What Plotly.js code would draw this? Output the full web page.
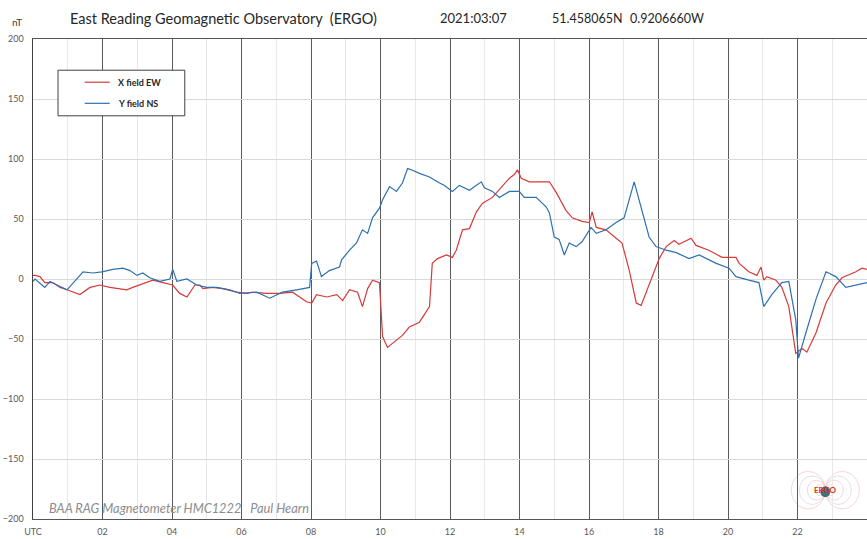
<!DOCTYPE html>
<html>
<head>
<meta charset="utf-8">
<script src="https://cdn.plot.ly/plotly-3.0.1.min.js"></script>
<style>
  html, body { margin: 0; padding: 0; background: #fff; }
  #chart { width: 867px; height: 539px; }
</style>
</head>
<body>
<div id="chart"></div>
<script>
// ERGO magnetometer, 2021-03-07 — time in decimal hours UTC, field deviation in nT
const xFieldHours = [0.00,0.06,0.20,0.34,0.57,0.78,0.98,1.35,1.64,1.93,2.21,2.50,2.70,2.87,3.07,3.28,3.45,3.74,4.02,4.22,4.43,4.66,4.80,4.89,5.17,5.46,5.86,6.15,6.32,6.72,7.10,7.47,7.87,8.02,8.16,8.45,8.74,8.91,9.11,9.34,9.48,9.63,9.77,9.97,10.06,10.20,10.46,10.63,10.83,11.12,11.41,11.49,11.64,11.90,12.07,12.18,12.36,12.56,12.76,12.93,13.22,13.51,13.71,13.85,13.94,14.05,14.28,14.57,14.86,15.06,15.34,15.52,15.80,16.01,16.09,16.21,16.49,16.78,16.95,17.16,17.36,17.50,17.73,18.02,18.22,18.45,18.59,18.94,19.08,19.45,19.83,20.23,20.32,20.60,20.83,20.95,21.03,21.12,21.38,21.55,21.75,21.95,22.13,22.27,22.53,22.82,23.10,23.28,23.68,23.85,24.00];
const xFieldEW = [3,3,2,-3,-3,-7,-9,-13,-7,-5,-7,-8,-9,-7,-5,-3,-1,-3,-5,-12,-15,-5,-5,-8,-7,-8,-11,-12,-11,-12,-12,-11,-19,-20,-13,-15,-13,-18,-9,-11,-23,-8,-1,-3,-48,-57,-51,-47,-40,-36,-23,13,17,20,18,24,41,42,56,63,68,77,84,87,91,84,81,81,81,72,57,51,48,47,56,43,41,34,30,7,-20,-22,-5,17,27,32,29,34,28,24,18,18,13,6,3,10,-1,2,-1,-7,-23,-62,-58,-61,-45,-20,-5,1,6,9,8];

const yFieldHours = [0.00,0.06,0.34,0.49,0.69,0.98,1.44,1.72,1.98,2.30,2.59,2.79,2.99,3.16,3.36,3.65,3.94,4.02,4.14,4.43,4.71,5.00,5.29,5.66,5.95,6.44,6.81,7.18,7.59,7.96,8.02,8.16,8.30,8.53,8.82,8.88,9.11,9.31,9.48,9.63,9.77,9.97,10.06,10.26,10.46,10.63,10.78,10.89,11.12,11.41,11.70,11.84,12.07,12.27,12.56,12.90,12.99,13.22,13.42,13.71,13.99,14.14,14.48,14.77,14.86,15.00,15.14,15.29,15.43,15.63,15.80,16.06,16.21,16.49,16.78,17.01,17.30,17.50,17.73,17.93,18.22,18.51,18.88,19.17,19.66,20.03,20.23,20.60,20.89,21.03,21.26,21.55,21.75,21.95,22.03,22.24,22.53,22.82,23.10,23.39,23.68,24.00];
const yFieldNS = [-2,0,-7,-2,-5,-9,6,5,6,8,9,7,3,5,1,-2,0,8,-2,0,-5,-7,-7,-9,-12,-11,-16,-11,-9,-7,13,15,2,7,10,16,24,30,41,38,51,59,66,77,73,80,92,91,88,85,80,78,73,78,74,81,76,73,68,73,73,68,68,60,55,35,33,20,30,27,31,43,38,41,47,51,81,60,35,27,24,22,17,20,13,9,2,-1,-3,-23,-13,-3,-2,-34,-66,-45,-17,6,2,-7,-5,-3];

const hourTicks = [0,2,4,6,8,10,12,14,16,18,20,22];
const hourLabels = ['UTC','02','04','06','08','10','12','14','16','18','20','22'];
const seriesNames = ['X field EW','Y field NS'];
const seriesColors = ['#d63a3a','#2e70ad'];

const titleParts = [
  {text: 'East Reading Geomagnetic Observatory  (ERGO)', x: 0.042, size: 14.5},
  {text: '2021:03:07', x: 0.4856, size: 13},
  {text: '51.458065N', x: 0.62, size: 12.5},
  {text: '0.9206660W', x: 0.7134, size: 12.5}
];

const font = 'Lato, "Open Sans", "Liberation Sans", sans-serif';

const traces = [
  {x: xFieldHours, y: xFieldEW, name: seriesNames[0], type: 'scatter', mode: 'lines',
   line: {color: seriesColors[0], width: 1.2}},
  {x: yFieldHours, y: yFieldNS, name: seriesNames[1], type: 'scatter', mode: 'lines',
   line: {color: seriesColors[1], width: 1.2}}
];

// plot-area size in px, used to place decorations in paper units
const plotW = 834, plotH = 480;
const px = v => v / plotW, py = v => v / plotH;

// legend box drawn in paper coordinates
const legL = 0.030, legR = 0.182, legT = 0.935, legB = 0.840;
const legRows = [0.910, 0.866];

const shapes = [
  {type: 'rect', xref: 'paper', yref: 'paper', x0: legL, x1: legR, y0: legB, y1: legT,
   line: {color: '#404040', width: 1}, fillcolor: '#ffffff', layer: 'above'},
  // logo backdrop
  {type: 'rect', xref: 'paper', yref: 'paper', x0: 0.918, x1: 0.985, y0: 0.022, y1: 0.102,
   line: {width: 0}, fillcolor: '#ffffff', layer: 'below'}
];
legRows.forEach((ry, i) => {
  shapes.push({type: 'line', xref: 'paper', yref: 'paper', x0: 0.062, x1: 0.092, y0: ry, y1: ry,
    line: {color: seriesColors[i], width: 1.2}, layer: 'above'});
});
// dipole field loops of the ERGO logo
const logoCx = 0.950, logoCy = 0.060;
[5, 9, 13, 17].forEach((r, k) => {
  const col = k % 2 ? '#f3c4c4' : '#d4d4d4';
  shapes.push({type: 'circle', xref: 'paper', yref: 'paper',
    x0: logoCx - px(2 * r), x1: logoCx, y0: logoCy - py(r * 1.1), y1: logoCy + py(r * 1.1),
    line: {color: col, width: 0.7}, layer: 'below'});
  shapes.push({type: 'circle', xref: 'paper', yref: 'paper',
    x0: logoCx, x1: logoCx + px(2 * r), y0: logoCy - py(r * 1.1), y1: logoCy + py(r * 1.1),
    line: {color: col, width: 0.7}, layer: 'below'});
});
shapes.push({type: 'circle', xref: 'paper', yref: 'paper',
  x0: logoCx - px(5), x1: logoCx + px(5), y0: logoCy - py(7), y1: logoCy + py(4),
  fillcolor: '#3d7286', line: {width: 0}, layer: 'below'});

const annotations = titleParts.map(p => ({
  text: p.text, xref: 'paper', yref: 'paper', x: p.x, y: 1, xanchor: 'left', yanchor: 'middle',
  yshift: 21, showarrow: false, font: {family: font, size: p.size, color: '#262626'}
}));
annotations.push({text: 'nT', xref: 'paper', yref: 'paper', x: 0, y: 1, xanchor: 'center',
  yanchor: 'middle', xshift: -16, yshift: 17, showarrow: false,
  font: {family: font, size: 10, color: '#404040'}});
legRows.forEach((ry, i) => {
  annotations.push({text: seriesNames[i], xref: 'paper', yref: 'paper', x: 0.100, y: ry,
    xanchor: 'left', yanchor: 'middle', showarrow: false,
    font: {family: font, size: 9, color: '#262626', weight: 'bold'}});
});
annotations.push({text: 'BAA RAG Magnetometer HMC1222   Paul Hearn', xref: 'paper', yref: 'paper',
  x: 0.0168, y: 0.023, xanchor: 'left', yanchor: 'middle', showarrow: false,
  font: {family: font, size: 12.8, color: '#8c8c8c', style: 'italic'}});
annotations.push({text: '<b>ERGO</b>', xref: 'paper', yref: 'paper', x: logoCx, y: logoCy,
  xanchor: 'center', yanchor: 'middle', showarrow: false,
  font: {family: font, size: 8, color: '#e0301e'}});

const layout = {
  width: 867, height: 539,
  margin: {l: 33, r: 0, t: 39, b: 20, pad: 0},
  paper_bgcolor: '#ffffff', plot_bgcolor: '#ffffff',
  showlegend: false,
  font: {family: font, size: 9, color: '#595959'},
  xaxis: {
    range: [0, 24], tickvals: hourTicks, ticktext: hourLabels,
    showgrid: true, gridcolor: '#5a5a5a', gridwidth: 1,
    minor: {dtick: 1, showgrid: true, gridcolor: '#e8e8e8', gridwidth: 1},
    showline: true, linecolor: '#555555', linewidth: 1, mirror: true,
    zeroline: false, ticks: '', ticklabelstandoff: 4,
    tickfont: {family: font, size: 9, color: '#595959'}
  },
  yaxis: {
    range: [-200, 200], dtick: 50, tick0: 0,
    showgrid: true, gridcolor: '#d9d9d9', gridwidth: 1,
    showline: true, linecolor: '#404040', linewidth: 1.5,
    zeroline: false, ticks: '', ticklabelstandoff: 6,
    tickfont: {family: font, size: 9, color: '#595959'}
  },
  shapes: shapes,
  annotations: annotations
};

Plotly.newPlot('chart', traces, layout, {displayModeBar: false, staticPlot: true});
</script>
</body>
</html>
